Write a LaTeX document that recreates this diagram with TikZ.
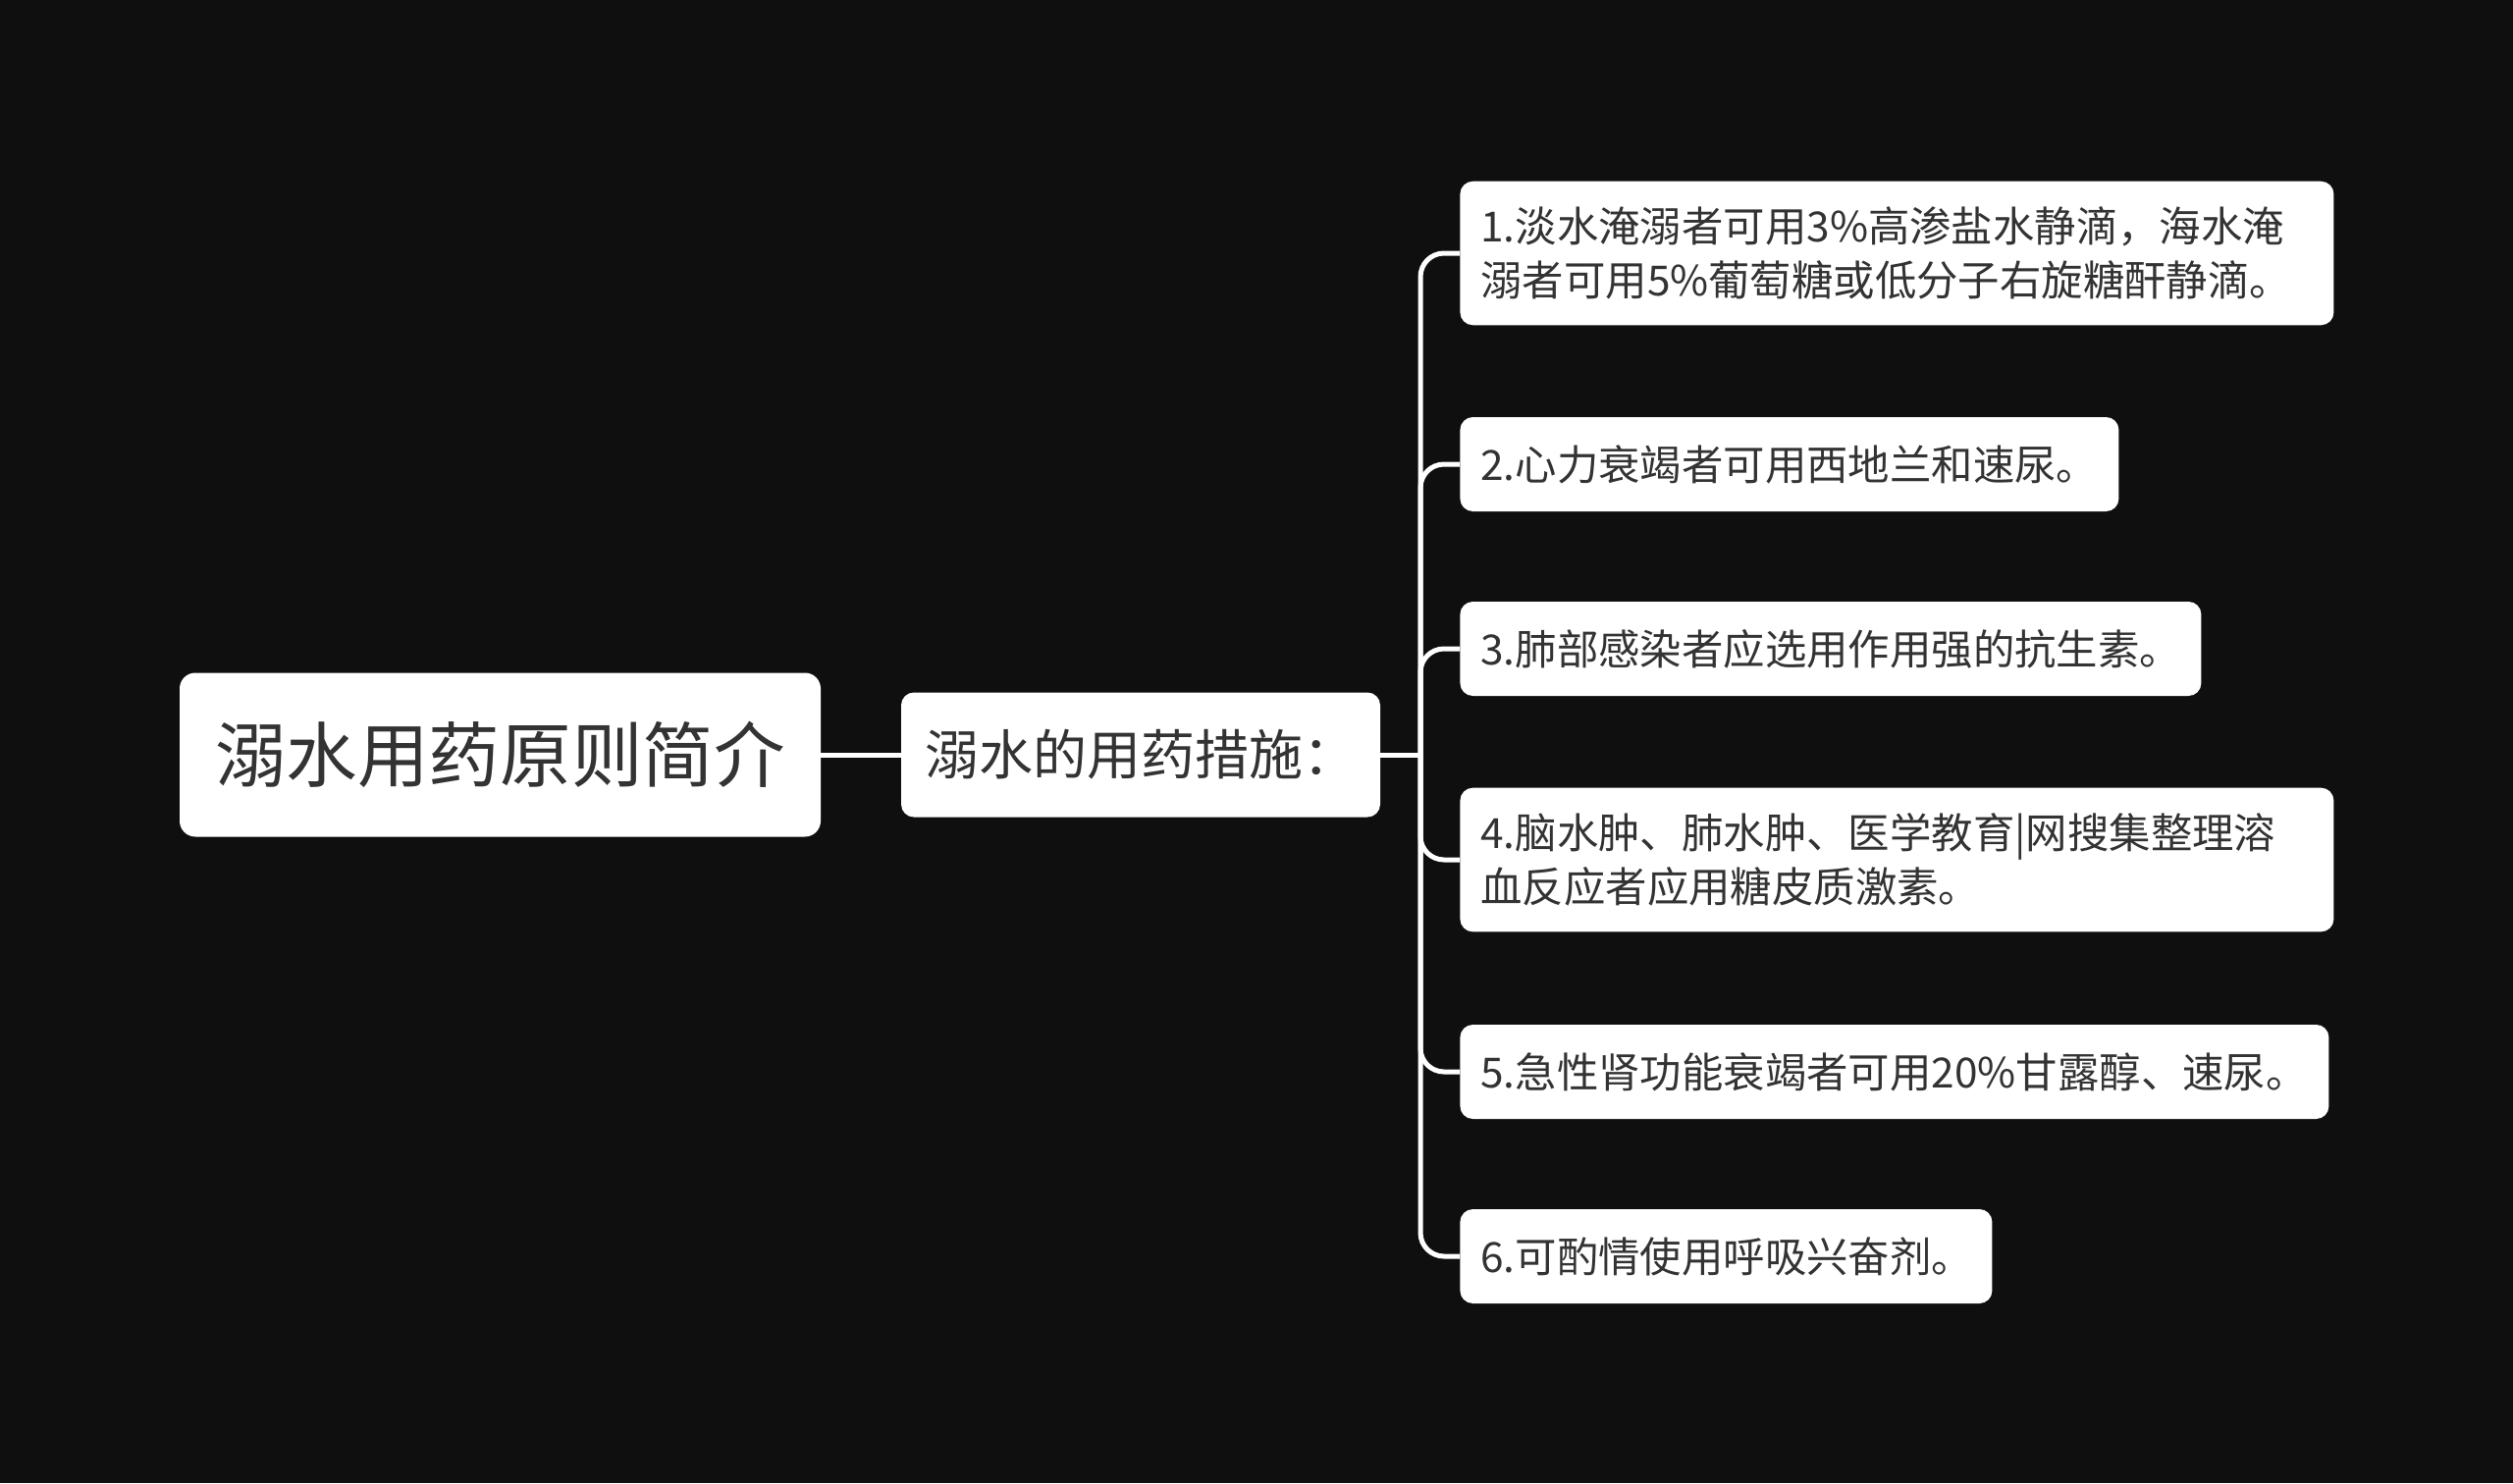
\documentclass[tikz,border=0pt]{standalone}
\usepackage{fontspec}
\newfontfamily\cjk{Noto Sans CJK SC}
\definecolor{bgcolor}{RGB}{15,15,15}
\definecolor{txtcolor}{RGB}{51,51,51}
\tikzset{
  topic/.style={fill=white, text=txtcolor, inner sep=0pt},
  leaf/.style={fill=white, rounded corners=6.5pt, text=txtcolor, align=left,
    inner xsep=10.5pt, inner ysep=13pt, minimum height=48pt, anchor=west,
    font=\cjk\fontsize{21.2}{27.5}\selectfont},
  link/.style={white, line width=2.5pt, rounded corners=12pt}
}

\begin{document}
\begin{tikzpicture}[x=0.5pt,y=-0.5pt]
  \fill[bgcolor] (0,0) rectangle (2560,1511);
  % root and first level
  \node[topic, rounded corners=8pt, minimum width=326.5pt, minimum height=83.5pt,
    font=\cjk\fontsize{36.3}{43}\selectfont] (root) at (509.5,769) {溺水用药原则简介};
  \node[topic, rounded corners=6.5pt, minimum width=244pt, minimum height=63.5pt,
    font=\cjk\fontsize{27.5}{33}\selectfont] (mid) at (1162,769) {溺水的用药措施：};
  \draw[link] (root.east) -- (mid.west);
  \coordinate (fork) at (1447,769);
  \draw[link] (mid.east) -- (fork);
  % leaves
  \foreach \i/\y/\w/\lbl in {
    1/258/424/{1.淡水淹溺者可用3\%高渗盐水静滴，海水淹\\溺者可用5\%葡萄糖或低分子右旋糖酐静滴。},
    2/473/314.5/{2.心力衰竭者可用西地兰和速尿。},
    3/661/356.5/{3.肺部感染者应选用作用强的抗生素。},
    4/876/424/{4.脑水肿、肺水肿、医学教育|网搜集整理溶\\血反应者应用糖皮质激素。},
    5/1092/421.5/{5.急性肾功能衰竭者可用20\%甘露醇、速尿。},
    6/1280/250/{6.可酌情使用呼吸兴奋剂。}} {
    \node[leaf, text width=\w pt] (l\i) at (1487,\y) {\lbl};
    \draw[link] (fork) |- (l\i.west);
  }
\end{tikzpicture}
\end{document}
